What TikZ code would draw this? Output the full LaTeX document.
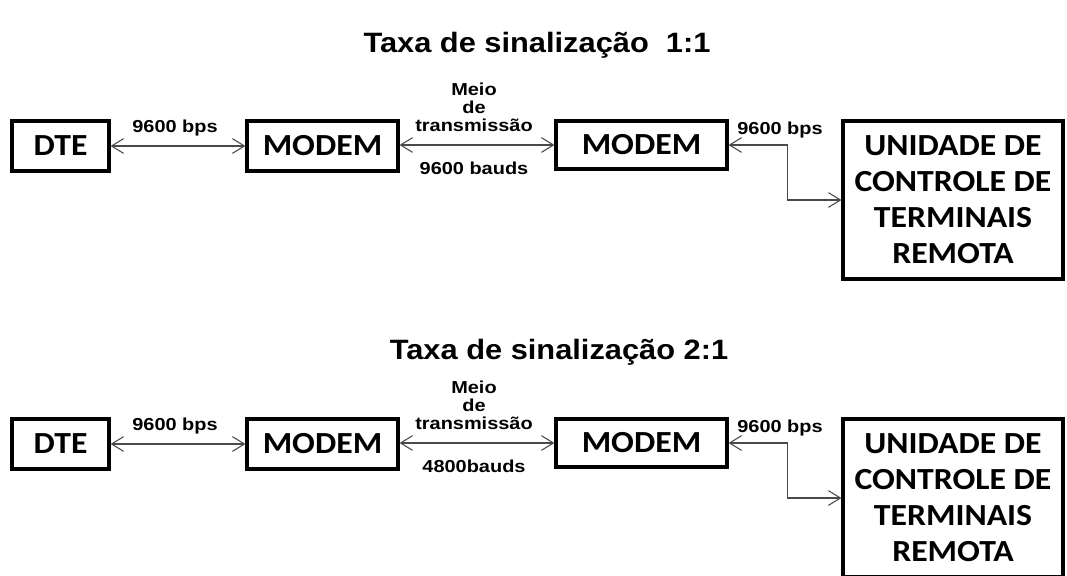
\documentclass[tikz,border=0pt]{standalone}
\usepackage{fontspec}
\setmainfont{Liberation Sans}
\newfontfamily\ttlfont[FakeStretch=1.1]{Liberation Sans}
\newfontfamily\lblfont[FakeStretch=1.15]{Liberation Sans}
\newfontfamily\boxfont[FakeStretch=1.1]{Carlito}
\usetikzlibrary{arrows.meta}
\definecolor{arrgray}{HTML}{4A4A4A}
\tikzset{
  blk/.style={draw=black, line width=2.3pt, rectangle, inner sep=0pt,
    font=\boxfont\bfseries\fontsize{23}{27}\selectfont, align=center},
  lbl/.style={font=\lblfont\bfseries\fontsize{13}{13.5}\selectfont, inner sep=0pt, align=center},
  conn/.style={draw=arrgray, line width=0.8pt,
    {Straight Barb[length=9pt,width=11pt]}-{Straight Barb[length=9pt,width=11pt]}},
  ttl/.style={font=\ttlfont\bfseries\fontsize{21}{25}\selectfont, inner sep=0pt}
}
\begin{document}
\begin{tikzpicture}[x=0.75pt,y=-0.75pt]
\useasboundingbox (0,0) rectangle (1067,575);
% ---------- top diagram ----------
\node[ttl] (t1) at (537,45) {Taxa de sinalização \ 1:1};
\node[blk, minimum width=97*0.75pt, minimum height=50*0.75pt] (dte1) at (60.5,146) {DTE};
\node[blk, minimum width=151*0.75pt, minimum height=50*0.75pt] (ma1) at (322.5,146) {MODEM};
\node[blk, minimum width=171*0.75pt, minimum height=48*0.75pt] (mb1) at (641.5,145) {MODEM};
\node[blk, minimum width=220*0.75pt, minimum height=158*0.75pt] (u1) at (953,200) {UNIDADE DE\\CONTROLE DE\\TERMINAIS\\REMOTA};
\draw[conn] (dte1.east) -- (ma1.west);
\draw[conn] (ma1.east |- mb1.west) -- (mb1.west);
\draw[conn] (mb1.east) -- ++(59,0) |- (u1.west);
\node[lbl] (l11) at (175,128) {9600 bps};
\node[lbl] (l12) at (474,107) {Meio\\de\\transmissão};
\node[lbl] (l13) at (474,168) {9600 bauds};
\node[lbl] (l14) at (780,130) {9600 bps};
% ---------- bottom diagram ----------
\node[ttl] (t2) at (559,352) {Taxa de sinalização 2:1};
\node[blk, minimum width=97*0.75pt, minimum height=50*0.75pt] (dte2) at (60.5,444) {DTE};
\node[blk, minimum width=151*0.75pt, minimum height=50*0.75pt] (ma2) at (322.5,444) {MODEM};
\node[blk, minimum width=171*0.75pt, minimum height=48*0.75pt] (mb2) at (641.5,443) {MODEM};
\node[blk, minimum width=220*0.75pt, minimum height=158*0.75pt] (u2) at (953,498) {UNIDADE DE\\CONTROLE DE\\TERMINAIS\\REMOTA};
\draw[conn] (dte2.east) -- (ma2.west);
\draw[conn] (ma2.east |- mb2.west) -- (mb2.west);
\draw[conn] (mb2.east) -- ++(59,0) |- (u2.west);
\node[lbl] (l21) at (175,426) {9600 bps};
\node[lbl] (l22) at (474,405) {Meio\\de\\transmissão};
\node[lbl] (l23) at (474,466) {4800bauds};
\node[lbl] (l24) at (780,428) {9600 bps};
\end{tikzpicture}
\end{document}
